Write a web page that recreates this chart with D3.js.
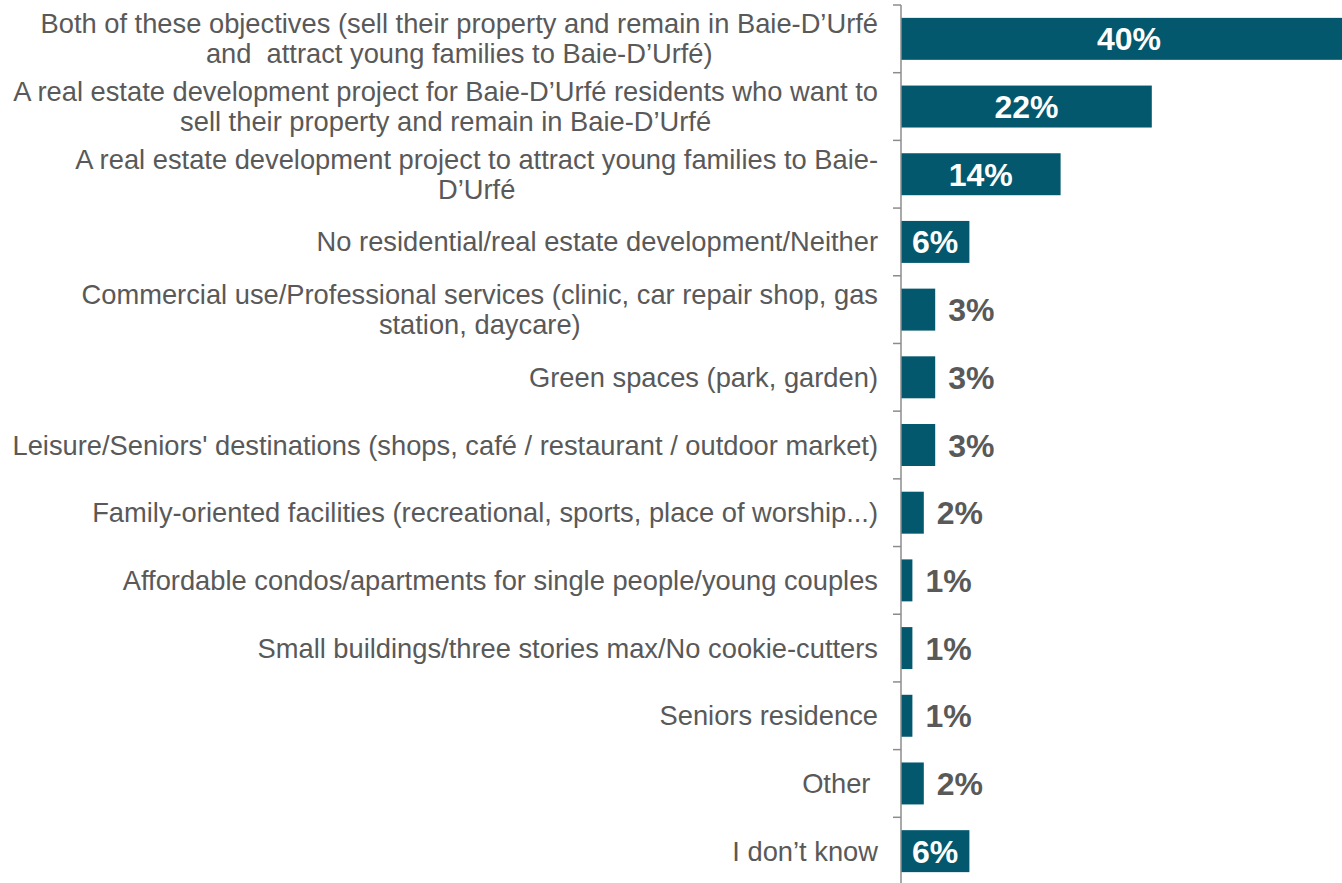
<!DOCTYPE html>
<html>
<head>
<meta charset="utf-8">
<script src="https://cdn.jsdelivr.net/npm/d3@7"></script>
<style>
  html, body { margin: 0; padding: 0; background: #ffffff; overflow: hidden; }
  svg { display: block; }
  text { font-family: "Liberation Sans", Arial, sans-serif; white-space: pre; }
</style>
</head>
<body>
<svg id="chart" width="1342" height="883"></svg>
<script>
// Answer categories (line breaks marked with \n), top to bottom
const categories = [
  "Both of these objectives (sell their property and remain in Baie-D\u2019Urf\u00e9\nand  attract young families to Baie-D\u2019Urf\u00e9)",
  "A real estate development project for Baie-D\u2019Urf\u00e9 residents who want to\nsell their property and remain in Baie-D\u2019Urf\u00e9",
  "A real estate development project to attract young families to Baie-\nD\u2019Urf\u00e9",
  "No residential/real estate development/Neither",
  "Commercial use/Professional services (clinic, car repair shop, gas\nstation, daycare)",
  "Green spaces (park, garden)",
  "Leisure/Seniors' destinations (shops, caf\u00e9 / restaurant / outdoor market)",
  "Family-oriented facilities (recreational, sports, place of worship...)",
  "Affordable condos/apartments for single people/young couples",
  "Small buildings/three stories max/No cookie-cutters",
  "Seniors residence",
  "Other ",
  "I don\u2019t know"
];

// Share of respondents (%)
const values = [40, 22, 14, 6, 3, 3, 3, 2, 1, 1, 1, 2, 6];

// Value labels drawn inside the bar (white) vs. beside it (grey)
const insideLabel = [true, true, true, true, false, false, false, false, false, false, false, false, true];

const svg = d3.select("#chart");

const axisX = 901;
const x = d3.scaleLinear().domain([0, 40]).range([axisX, axisX + 456]);
const y = d3.scaleBand()
  .domain(d3.range(categories.length))
  .range([5, 885])
  .paddingInner(0.38)
  .paddingOuter(0.19);

const barColor = "#03586d";
const textGrey = "#595959";
const axisGrey = "#8c8c8c";

// Bars
svg.append("g").selectAll("rect")
  .data(values)
  .join("rect")
  .attr("x", x(0))
  .attr("y", (d, i) => y(i))
  .attr("width", d => x(d) - x(0))
  .attr("height", y.bandwidth())
  .attr("fill", barColor);

// Category axis: vertical line plus ticks at band boundaries
const step = y.step();
const y0 = y.range()[0];
const axis = svg.append("g");
axis.append("line")
  .attr("x1", axisX).attr("x2", axisX)
  .attr("y1", y0).attr("y2", y.range()[1])
  .attr("stroke", axisGrey).attr("stroke-width", 1.5);
axis.selectAll("line.tick")
  .data(d3.range(categories.length + 1))
  .join("line")
  .attr("class", "tick")
  .attr("x1", axisX - 8).attr("x2", axisX)
  .attr("y1", i => y0 + i * step).attr("y2", i => y0 + i * step)
  .attr("stroke", axisGrey).attr("stroke-width", 1.5);

// Category labels: each block sits flush against the axis, lines centred within it
const labelRight = 878;
const lineGap = 30;
const labels = svg.append("g")
  .attr("font-size", 27.3)
  .attr("fill", textGrey)
  .attr("text-anchor", "middle");
categories.forEach((c, i) => {
  const lines = c.split("\n");
  const cy = y(i) + y.bandwidth() / 2;
  const t = labels.append("text");
  const spans = lines.map((ln, k) => t.append("tspan")
    .attr("y", cy + (k - (lines.length - 1) / 2) * lineGap)
    .attr("dy", "0.35em")
    .text(ln));
  const widest = d3.max(spans, s => s.node().getComputedTextLength());
  spans.forEach(s => s.attr("x", labelRight - widest / 2));
});

// Value labels
svg.append("g").selectAll("text")
  .data(values)
  .join("text")
  .attr("font-size", 32)
  .attr("font-weight", "bold")
  .attr("x", (d, i) => insideLabel[i] ? (x(0) + x(d)) / 2 : x(d) + 13)
  .attr("y", (d, i) => y(i) + y.bandwidth() / 2)
  .attr("dy", "0.36em")
  .attr("text-anchor", (d, i) => insideLabel[i] ? "middle" : "start")
  .attr("fill", (d, i) => insideLabel[i] ? "#ffffff" : textGrey)
  .text(d => d + "%");
</script>
</body>
</html>
